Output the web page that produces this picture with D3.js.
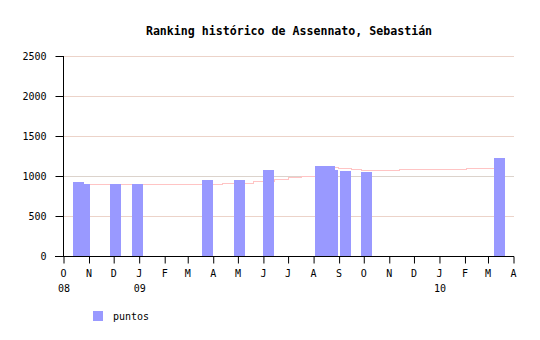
<!DOCTYPE html>
<html>
<head>
<meta charset="utf-8">
<script src="https://cdn.jsdelivr.net/npm/d3@7"></script>
<style>
  body { margin: 0; background: #fff; }
  svg { display: block; }
</style>
</head>
<body>
<div id="chart"></div>
<script>
const barDates = ['2008-10-20', '2008-10-27', '2008-12-04', '2008-12-31', '2009-03-26', '2009-05-03',
                  '2009-06-08', '2009-08-10', '2009-08-21', '2009-08-25', '2009-09-09', '2009-10-05', '2010-03-16'];
const barValues = [920, 905, 905, 905, 955, 955, 1080, 1130, 1130, 1080, 1065, 1055, 1230];

const stepDates = ['2008-10-26', '2009-04-12', '2009-05-20', '2009-06-14', '2009-07-01', '2009-07-17',
                   '2009-08-03', '2009-08-31', '2009-09-16', '2009-09-28', '2009-11-14', '2010-02-03', '2010-03-20'];
const stepValues = [905, 916, 938, 962, 983, 995, 1116, 1100, 1088, 1075, 1088, 1100, 1100];

const yTicks = [0, 500, 1000, 1500, 2000, 2500];
const monthLetters = ['J', 'F', 'M', 'A', 'M', 'J', 'J', 'A', 'S', 'O', 'N', 'D'];
const yearLabels = [['2008-10-01', '08'], ['2009-01-01', '09'], ['2010-01-01', '10']];

const parse = d3.utcParse('%Y-%m-%d');
const width = 540, height = 340;
const mono = '"DejaVu Sans Mono", "Liberation Mono", monospace';

const svg = d3.select('#chart').append('svg')
  .attr('width', width)
  .attr('height', height)
  .style('font-family', mono);

const x = d3.scaleUtc([parse('2008-10-01'), parse('2010-04-01')], [63, 513]);
const y = d3.scaleLinear([0, 2500], [256, 56]);

svg.append('text')
  .attr('x', 289).attr('y', 35)
  .attr('text-anchor', 'middle')
  .style('font-size', '11.6px')
  .style('font-weight', 'bold')
  .text('Ranking histórico de Assennato, Sebastián');

// grid
svg.append('g')
  .attr('shape-rendering', 'crispEdges')
  .selectAll('line')
  .data(yTicks.slice(1))
  .join('line')
    .attr('x1', 64).attr('x2', 514)
    .attr('y1', d => y(d) + 0.5).attr('y2', d => y(d) + 0.5)
    .attr('stroke', d => d === 1000 ? '#dcd3cc' : '#ecd3c9');

// step line
const stepData = stepDates.map((d, i) => [parse(d), stepValues[i]]);
svg.append('path')
  .datum(stepData)
  .attr('fill', 'none')
  .attr('stroke', '#ffc4c4')
  .attr('stroke-width', 1)
  .attr('shape-rendering', 'crispEdges')
  .attr('d', d3.line().x(d => Math.round(x(d[0]))).y(d => Math.round(y(d[1])) + 0.5).curve(d3.curveStepAfter));

// bars
svg.append('g')
  .attr('shape-rendering', 'crispEdges')
  .selectAll('rect')
  .data(barDates.map((d, i) => [parse(d), barValues[i]]))
  .join('rect')
    .attr('x', d => Math.round(x(d[0]) - 5.5))
    .attr('width', 11)
    .attr('y', d => Math.round(y(d[1])))
    .attr('height', d => y(0) - Math.round(y(d[1])))
    .attr('fill', '#9999ff');

// y axis
const yAxis = svg.append('g')
  .attr('transform', 'translate(63.5,0)')
  .call(d3.axisLeft(y).tickValues(yTicks).tickFormat(d3.format('d'))
    .tickSize(8).tickPadding(9).tickSizeOuter(0));
yAxis.select('.domain').attr('stroke', '#000').attr('d', `M0,${y(2500)}V${y(0) + 1}`);
yAxis.selectAll('text').style('font-size', '10px').style('font-family', mono).attr('fill', '#000');

// x axis
const months = d3.utcMonth.range(parse('2008-10-01'), parse('2010-04-02'));
const xAxis = svg.append('g')
  .attr('transform', 'translate(0,256.5)')
  .call(d3.axisBottom(x).tickValues(months).tickSize(7).tickPadding(6)
    .tickFormat(d => monthLetters[d.getUTCMonth()]).tickSizeOuter(0));
xAxis.select('.domain').attr('stroke', '#000').attr('d', 'M55,0H514');
xAxis.selectAll('.tick line').attr('transform', 'translate(0.5,0)');
xAxis.selectAll('text').style('font-size', '10px').style('font-family', mono).attr('fill', '#000');

svg.append('g')
  .selectAll('text')
  .data(yearLabels)
  .join('text')
    .attr('x', d => x(parse(d[0])) + 1)
    .attr('y', 292)
    .attr('text-anchor', 'middle')
    .style('font-size', '10px')
    .text(d => d[1]);

// legend
svg.append('rect')
  .attr('x', 93).attr('y', 311).attr('width', 10).attr('height', 10)
  .attr('fill', '#9999ff');
svg.append('text')
  .attr('x', 113).attr('y', 320)
  .style('font-size', '10px')
  .text('puntos');
</script>
</body>
</html>
